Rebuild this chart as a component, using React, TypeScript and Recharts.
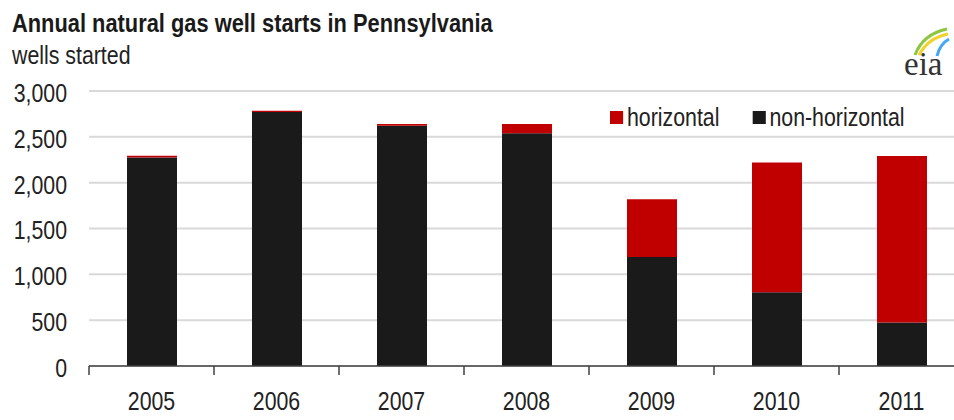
import { BarChart, Bar, XAxis, YAxis, CartesianGrid, Legend } from 'recharts'

const years = ['2005', '2006', '2007', '2008', '2009', '2010', '2011']
const nonHorizontal = [2275, 2770, 2620, 2540, 1190, 805, 475]
const horizontal = [20, 15, 20, 100, 630, 1415, 1815]
const yTicks = [0, 500, 1000, 1500, 2000, 2500, 3000]

const FONT = '"Liberation Sans", Arial, sans-serif'
const NARROW = 0.82
const RED = '#c00000'
const BLACK = '#1a1a1a'
const AXIS = '#404040'
const X_TICK_MARGIN = 26

const data = years.map((y, i) => ({
  year: y,
  nonHorizontal: nonHorizontal[i],
  horizontal: horizontal[i]
}))

// no condensed font installed, so squeeze the text horizontally
const NarrowTick = ({ x, y, payload, textAnchor, dy, fmt }: any) => (
  <text
    transform={`translate(${x},${y}) scale(${NARROW},1)`}
    textAnchor={textAnchor}
    dy={dy}
    fontFamily={FONT}
    fontSize={26}
    fill="#222"
  >
    {fmt ? fmt(payload.value) : payload.value}
  </text>
)

// year label plus tick marks on the category boundaries
const YearTick = (props: any) => {
  const { x, y, payload, index, visibleTicksCount } = props
  const half = payload.offset || 0
  const axisY = y - X_TICK_MARGIN
  return (
    <g>
      <line x1={x - half} x2={x - half} y1={axisY} y2={axisY + 9} stroke={AXIS} strokeWidth={1.5} />
      {index === visibleTicksCount - 1 && (
        <line x1={x + half} x2={x + half} y1={axisY} y2={axisY + 9} stroke={AXIS} strokeWidth={1.5} />
      )}
      <NarrowTick {...props} dy="0.71em" />
    </g>
  )
}

const Narrow = ({ children, style }: any) => (
  <div style={{ position: 'absolute', transform: `scaleX(${NARROW})`, transformOrigin: 'left top', whiteSpace: 'nowrap', fontFamily: FONT, ...style }}>
    {children}
  </div>
)

const LegendBox = ({ payload }: any) => {
  const items = [...(payload || [])].sort((a: any) => (a.value === 'horizontal' ? -1 : 1))
  return (
    <div style={{ display: 'flex', fontFamily: FONT, fontSize: 26, color: '#222', lineHeight: '26px', whiteSpace: 'nowrap' }}>
      {items.map((p: any, i: number) => (
        <div key={i} style={{ display: 'flex', alignItems: 'center', marginRight: 33 / NARROW }}>
          <span style={{ width: 13 / NARROW, height: 13, background: p.color, marginRight: 4 / NARROW, display: 'inline-block' }} />
          <span>{p.value}</span>
        </div>
      ))}
    </div>
  )
}

const EiaLogo = () => (
  <svg width={60} height={62} style={{ position: 'absolute', left: 894, top: 20 }}>
    <path d="M21 35 Q29 14 53 9" stroke="#8dc63f" strokeWidth={3} fill="none" />
    <path d="M25 35 Q34 18 54 14" stroke="#f2d22e" strokeWidth={3} fill="none" />
    <path d="M43 36 Q46 24 55 19" stroke="#3fa9f5" strokeWidth={3} fill="none" />
    <text x={10} y={55} fontFamily='"Liberation Serif", "DejaVu Serif", serif' fontSize={33} fill="#333">eia</text>
  </svg>
)

export default function App() {
  return (
    <div style={{ position: 'absolute', left: 0, top: 0, width: 954, height: 420, overflow: 'hidden', background: '#fff' }}>
      <Narrow style={{ left: 12, top: 8, fontWeight: 'bold', fontSize: 26, color: '#1a1a1a', transform: 'scaleX(0.84)' }}>
        Annual natural gas well starts in Pennsylvania
      </Narrow>
      <Narrow style={{ left: 12, top: 40, fontSize: 26, color: '#222' }}>
        wells started
      </Narrow>
      <EiaLogo />
      <BarChart
        width={964}
        height={420}
        data={data}
        margin={{ top: 91, right: 0, left: 0, bottom: 0 }}
        style={{ position: 'absolute', left: 0, top: 0 }}
      >
        <CartesianGrid vertical={false} stroke="#d9d9d9" strokeWidth={2} />
        <XAxis
          dataKey="year"
          axisLine={{ stroke: AXIS, strokeWidth: 1.5 }}
          tickLine={false}
          tickSize={0}
          tickMargin={X_TICK_MARGIN}
          height={54}
          interval={0}
          tick={<YearTick />}
        />
        <YAxis
          domain={[0, 3000]}
          ticks={yTicks}
          width={89}
          axisLine={false}
          tickLine={false}
          tickSize={0}
          tickMargin={22}
          tick={<NarrowTick dy="0.42em" fmt={(v: number) => v.toLocaleString('en-US')} />}
        />
        <Legend
          layout="horizontal"
          verticalAlign="middle"
          align="center"
          content={<LegendBox />}
          wrapperStyle={{ position: 'absolute', left: 610, top: 104, width: 420, transform: `scaleX(${NARROW})`, transformOrigin: 'left top' }}
        />
        <Bar dataKey="nonHorizontal" name="non-horizontal" stackId="a" fill={BLACK} barSize={50} isAnimationActive={false} />
        <Bar dataKey="horizontal" name="horizontal" stackId="a" fill={RED} barSize={50} isAnimationActive={false} />
      </BarChart>
    </div>
  )
}
